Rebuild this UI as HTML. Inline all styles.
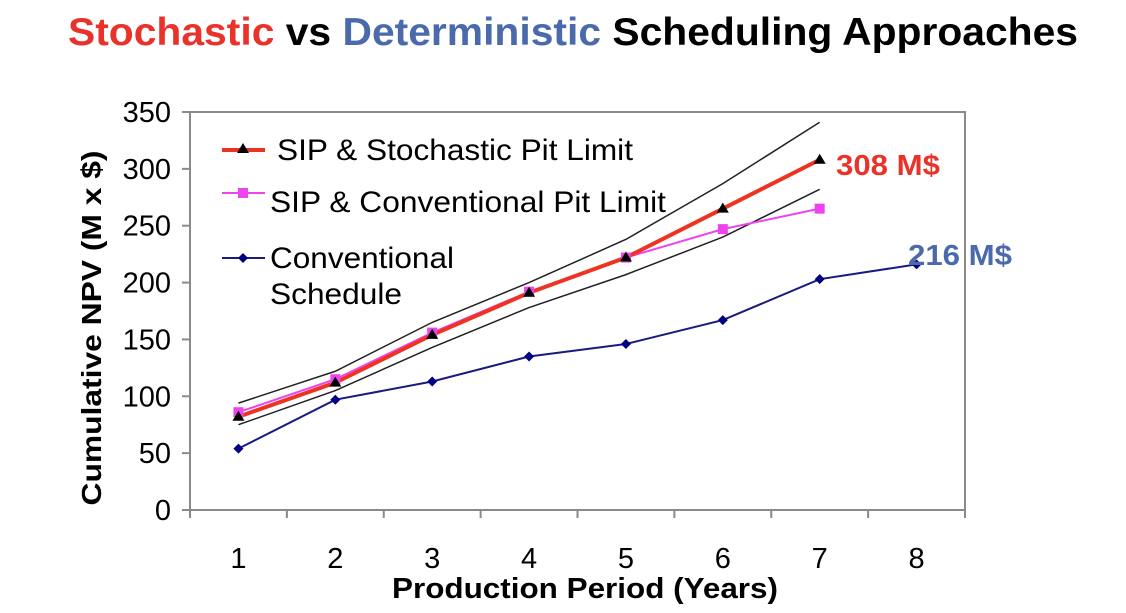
<!DOCTYPE html>
<html><head><meta charset="utf-8"><style>
body{margin:0;background:#fff;width:1126px;height:608px;overflow:hidden;font-family:"Liberation Sans",Arial,sans-serif}
</style></head><body>
<svg id="chart" width="1126" height="608" xmlns="http://www.w3.org/2000/svg" font-family="Liberation Sans, Arial, sans-serif">
<text x="68" y="45" textLength="1010" lengthAdjust="spacingAndGlyphs" font-size="39" font-weight="bold"><tspan fill="#e8322a">Stochastic</tspan><tspan fill="#000"> vs </tspan><tspan fill="#4a6aab">Deterministic</tspan><tspan fill="#000"> Scheduling Approaches</tspan></text>
<rect x="190" y="112" width="775" height="398" fill="none" stroke="#8a8a8a" stroke-width="2"/>
<g id="yaxis"></g><g id="xaxis"></g><g id="series"></g>
<text transform="translate(101,328) rotate(-90)" text-anchor="middle" font-size="28" font-weight="bold" textLength="355" lengthAdjust="spacingAndGlyphs">Cumulative NPV (M x $)</text>
<text x="585" y="598" text-anchor="middle" font-size="29" font-weight="bold" textLength="386" lengthAdjust="spacingAndGlyphs">Production Period (Years)</text>
<text x="836" y="175" font-size="29" font-weight="bold" fill="#e8322a" textLength="104" lengthAdjust="spacingAndGlyphs">308 M$</text>
<text x="908" y="265" font-size="29" font-weight="bold" fill="#4a6aab" textLength="104" lengthAdjust="spacingAndGlyphs">216 M$</text>
<g font-size="30">
<line x1="222" y1="150" x2="265" y2="150" stroke="#ee3322" stroke-width="4"/>
<polygon points="243,143 237,153 249,153" fill="#000"/>
<text x="277" y="160" textLength="356" lengthAdjust="spacingAndGlyphs">SIP &amp; Stochastic Pit Limit</text>
<line x1="222" y1="193" x2="265" y2="193" stroke="#ee44ee" stroke-width="2"/>
<rect x="238" y="188" width="10" height="10" fill="#ee44ee"/>
<text x="270" y="212" textLength="396" lengthAdjust="spacingAndGlyphs">SIP &amp; Conventional Pit Limit</text>
<line x1="222" y1="258" x2="265" y2="258" stroke="#1a1a80" stroke-width="2"/>
<polygon points="243,253 248,258 243,263 238,258" fill="#000080"/>
<text x="270" y="268" textLength="184" lengthAdjust="spacingAndGlyphs">Conventional</text>
<text x="270" y="304" textLength="132" lengthAdjust="spacingAndGlyphs">Schedule</text>
</g>
</svg>
<script>
const categories=[1,2,3,4,5,6,7,8];
const yTicks=[0,50,100,150,200,250,300,350];
const stochastic=[82,112,154,191,222,265,308];
const conventionalPit=[86,115,156,192,222,247,265];
const conventionalSchedule=[54,97,113,135,146,167,203,216];
const upperBand=[94,122,165,200,238,287,341];
const lowerBand=[75,105,143,178,207,240,282];
const NS='http://www.w3.org/2000/svg';
const L=190,R=965,T=112,B=510;
const cw=(R-L)/categories.length;
const xs=i=>L+cw*(i+0.5);
const ys=v=>B-(v/350)*(B-T);
function mk(tag,attrs,parent){const e=document.createElementNS(NS,tag);for(const k in attrs)e.setAttribute(k,attrs[k]);parent.appendChild(e);return e;}
const ya=document.getElementById('yaxis'),xa=document.getElementById('xaxis'),sg=document.getElementById('series');
yTicks.forEach(v=>{const t=mk('line',{x1:182,x2:190,y1:ys(v),y2:ys(v),stroke:'#8a8a8a','stroke-width':2},ya);


const tx=mk('text',{x:171,y:ys(v)+10,'text-anchor':'end','font-size':29},ya);tx.textContent=v;

});
for(let i=0;i<=categories.length;i++){const t=mk('line',{x1:L+cw*i,x2:L+cw*i,y1:B,y2:B+8,stroke:'#8a8a8a','stroke-width':2},xa);

}
categories.forEach((c,i)=>{const tx=mk('text',{x:xs(i),y:568,'text-anchor':'middle','font-size':29},xa);tx.textContent=c;

});
function line(arr,color,w,name){const p=mk('polyline',{points:arr.map((v,i)=>xs(i)+','+ys(v)).join(' '),fill:'none',stroke:color,'stroke-width':w},sg);

}
line(upperBand,'#222',1.5,'upper-band');
line(lowerBand,'#222',1.5,'lower-band');
line(conventionalSchedule,'#1a1a80',2,'conventional-schedule-line');
line(conventionalPit,'#ee44ee',2,'conventional-pit-line');
line(stochastic,'#ee3322',4,'stochastic-line');
conventionalSchedule.forEach((v,i)=>{const x=xs(i),y=ys(v);const m=mk('polygon',{points:`${x},${y-5} ${x+5},${y} ${x},${y+5} ${x-5},${y}`,fill:'#000080'},sg);

});
conventionalPit.forEach((v,i)=>{const m=mk('rect',{x:xs(i)-5,y:ys(v)-5,width:10,height:10,fill:'#ee44ee'},sg);

});
stochastic.forEach((v,i)=>{const x=xs(i),y=ys(v);const m=mk('polygon',{points:`${x},${y-6} ${x-6},${y+4} ${x+6},${y+4}`,fill:'#000'},sg);

});
</script>
</body></html>
